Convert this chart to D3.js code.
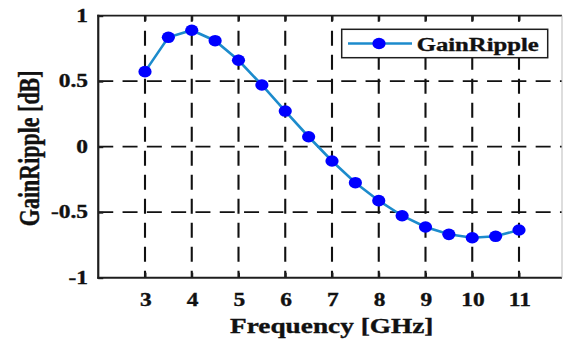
<!DOCTYPE html>
<html><head><meta charset="utf-8">
<script src="https://cdn.jsdelivr.net/npm/d3@7"></script>
<style>body{margin:0;background:#fff}svg{display:block}</style>
</head><body>
<svg id="c" width="563" height="343"></svg>
<script>
// ---- data ----
const freq = [3,3.5,4,4.5,5,5.5,6,6.5,7,7.5,8,8.5,9,9.5,10,10.5,11];
const gainRipple = [0.573,0.835,0.889,0.809,0.660,0.471,0.272,0.076,-0.109,-0.275,-0.412,-0.527,-0.613,-0.669,-0.695,-0.684,-0.636];
const xTicks = [3,4,5,6,7,8,9,10,11];
const xTickLabels = ["3","4","5","6","7","8","9","10","11"];
const yTicks = [-1,-0.5,0,0.5,1];
const yTickLabels = ["-1","-0.5","0","0.5","1"];
const seriesName = "GainRipple";
const xTitle = "Frequency [GHz]";
const yTitle = "GainRipple [dB]";

// ---- layout ----
const L = 98.25, R = 562, T = 15.7, B = 277.7;
const SX = 1.3; // horizontal stretch of the original figure
const FONT = "Liberation Serif, Times New Roman, serif";
const AX = "#1e1e1e";
const TXT = "#111";

const svg = d3.select("#c");
const x = d3.scaleLinear().domain([2,12]).range([L, L + 10*46.75]);
const y = d3.scaleLinear().domain([-1,1]).range([B, T]);

svg.append("defs").append("clipPath").attr("id","pc")
  .append("rect").attr("x",L).attr("y",T-2).attr("width",R-L).attr("height",B-T+4);

const plot = svg.append("g").attr("clip-path","url(#pc)");

// grid
plot.append("g").selectAll("line").data(xTicks).join("line")
  .attr("x1",d=>x(d)).attr("x2",d=>x(d)).attr("y1",B).attr("y2",T)
  .attr("stroke","#111").attr("stroke-width",2.1).attr("stroke-dasharray","15,9").attr("stroke-dashoffset",8);
plot.append("g").selectAll("line").data(yTicks.filter(d=>d>-1&&d<1)).join("line")
  .attr("x1",L).attr("x2",R).attr("y1",d=>y(d)).attr("y2",d=>y(d))
  .attr("stroke","#111").attr("stroke-width",1.7).attr("stroke-dasharray","15,9.3");

// axes (inward ticks)
const axB = svg.append("g").attr("transform",`translate(0,${B})`)
  .call(d3.axisBottom(x).tickValues(xTicks).tickSize(-5).tickSizeOuter(0).tickFormat(""));
const axT = svg.append("g").attr("transform",`translate(0,${T})`)
  .call(d3.axisTop(x).tickValues(xTicks).tickSize(-5).tickSizeOuter(0).tickFormat(""));
const axL = svg.append("g").attr("transform",`translate(${L},0)`)
  .call(d3.axisLeft(y).tickValues(yTicks).tickSize(-5).tickSizeOuter(0).tickFormat(""));
[axB,axT,axL].forEach(g=>{
  g.selectAll("path.domain").remove();
  g.selectAll(".tick line").attr("stroke",AX).attr("stroke-width",2);
});
// frame
svg.append("line").attr("x1",L-1).attr("x2",R).attr("y1",B).attr("y2",B).attr("stroke",AX).attr("stroke-width",2);
svg.append("line").attr("x1",L-1).attr("x2",R).attr("y1",T).attr("y2",T).attr("stroke",AX).attr("stroke-width",1.8);
svg.append("line").attr("x1",L).attr("x2",L).attr("y1",T-1).attr("y2",B+1).attr("stroke",AX).attr("stroke-width",2.2);
svg.append("line").attr("x1",R).attr("x2",R).attr("y1",T).attr("y2",B).attr("stroke","#bbb").attr("stroke-width",1);

function styleText(sel, size){
  sel.attr("font-family",FONT).attr("font-weight","bold").attr("font-size",size)
     .attr("fill",TXT).attr("stroke",TXT).attr("stroke-width",0.35);
}

// tick labels
styleText(svg.append("g").selectAll("text").data(xTicks).join("text")
  .attr("transform",d=>`translate(${x(d)+0.8},306) scale(${SX},1)`)
  .attr("text-anchor","middle").text((d,i)=>xTickLabels[i]), 18);
styleText(svg.append("g").selectAll("text").data(yTicks).join("text")
  .attr("transform",d=>`translate(88,${y(d)+6}) scale(${SX},1)`)
  .attr("text-anchor","end").text((d,i)=>yTickLabels[i]), 18);

// axis titles
styleText(svg.append("text").attr("transform",`translate(331.7,333.3) scale(${SX},1)`)
  .attr("text-anchor","middle").text(xTitle), 21);
styleText(svg.append("text").attr("transform",`translate(38.5,148.3) scale(${SX},1) rotate(-90)`)
  .attr("text-anchor","middle").text(yTitle), 22);

// series
const LINE_C = "#1c8bcc", MARK_C = "#0000ff";
svg.append("path").datum(freq.map((f,i)=>[f,gainRipple[i]]))
  .attr("d",d3.line().x(d=>x(d[0])).y(d=>y(d[1])))
  .attr("fill","none").attr("stroke",LINE_C).attr("stroke-width",2.6);
svg.append("g").selectAll("ellipse").data(freq).join("ellipse")
  .attr("cx",d=>x(d)).attr("cy",(d,i)=>y(gainRipple[i]))
  .attr("rx",6.6).attr("ry",5.8).attr("fill",MARK_C);

// legend
const lg = svg.append("g");
lg.append("rect").attr("x",341.7).attr("y",29.3).attr("width",206).attr("height",28.4)
  .attr("fill","#fff").attr("stroke",AX).attr("stroke-width",1.5);
lg.append("line").attr("x1",348).attr("x2",412).attr("y1",43.5).attr("y2",43.5)
  .attr("stroke",LINE_C).attr("stroke-width",2.6);
lg.append("ellipse").attr("cx",379).attr("cy",43.5).attr("rx",6.6).attr("ry",5.8).attr("fill",MARK_C);
styleText(lg.append("text").attr("transform",`translate(416.7,50.5) scale(${SX},1)`)
  .text(seriesName), 19);
</script>
</body></html>
